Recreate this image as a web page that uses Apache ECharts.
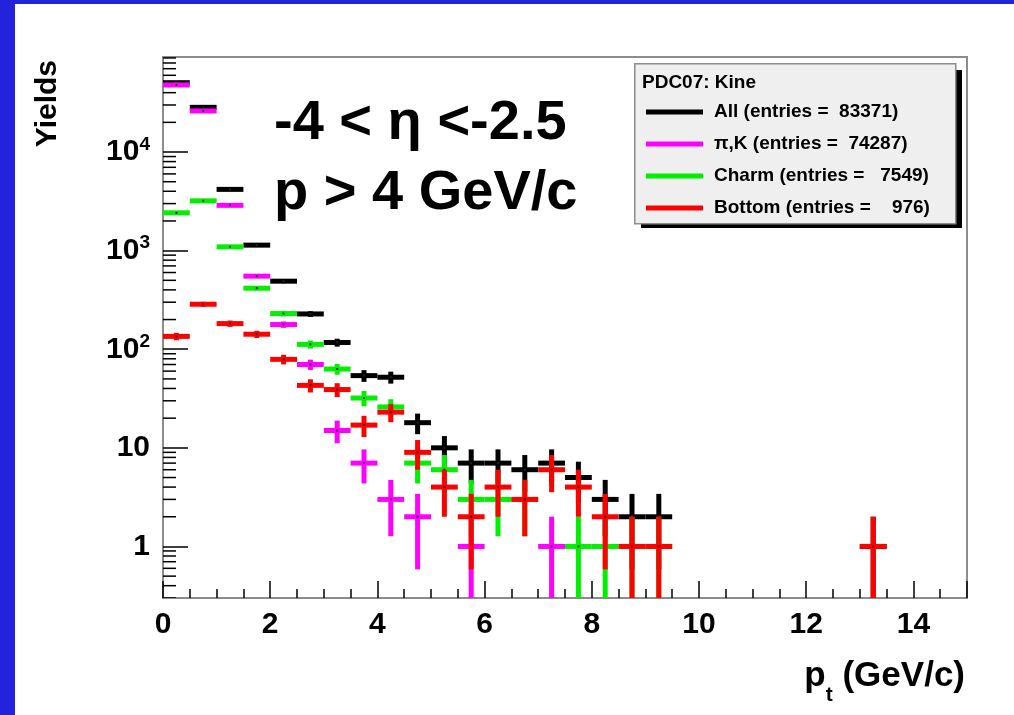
<!DOCTYPE html>
<html>
<head>
<meta charset="utf-8">
<script src="https://cdn.jsdelivr.net/npm/echarts@6/dist/echarts.min.js"></script>
<style>
  html, body { margin: 0; padding: 0; background: #fff; }
  #chart { width: 1014px; height: 715px; }
</style>
</head>
<body>
<div id="chart"></div>
<script>
// 0.5 GeV/c bins starting at pt = 0
var binWidth = 0.5;
var allYield = [50500, 28400, 4180, 1137, 490, 228, 117, 54, 52, 18, 10, 7, 7, 6, 7, 5, 3, 2, 2, 0, 0, 0, 0, 0, 0, 0, 1];
var pikYield = [47900, 26100, 2880, 551, 178, 70, 15, 7, 3, 2, 0, 1, 0, 0, 1, 0, 0, 0, 0];
var charmYield = [2420, 3200, 1093, 416, 230, 112, 63, 32, 26, 7, 6, 3, 3, 3, 0, 1, 1, 1, 1];
var bottomYield = [135, 286, 182, 142, 79, 43, 39, 17, 23, 9, 4, 2, 4, 3, 6, 4, 2, 1, 1, 0, 0, 0, 0, 0, 0, 0, 1];

var seriesNames = ['All (entries =  83371)', '\u03c0,K (entries =  74287)', 'Charm (entries =   7549)', 'Bottom (entries =    976)'];
var seriesColors = ['#000000', '#ff00ff', '#00f000', '#ff0000'];
var legendTitle = 'PDC07: Kine';
var xTicks = [0, 2, 4, 6, 8, 10, 12, 14];

var FONT = '"Liberation Sans", Arial, Helvetica, sans-serif';

function toBins(counts) {
  var out = [];
  counts.forEach(function (n, i) {
    if (n > 0) out.push([i * binWidth, (i + 1) * binWidth, n]);
  });
  return out;
}

// log-axis minor ticks (2..9 x 10^k)
var minorY = [];
for (var e = -1; e <= 4; e++) {
  for (var m = 2; m <= 9; m++) {
    var v = m * Math.pow(10, e);
    if (v > 0.3 && v < 92000) minorY.push([0, v]);
  }
}

function renderBin(params, api) {
  var lo = api.value(0), hi = api.value(1), n = api.value(2);
  var err = Math.sqrt(n);
  var mid = (lo + hi) / 2;
  var a = api.coord([lo, n]);
  var b = api.coord([hi, n]);
  var up = api.coord([mid, n + err]);
  var down = api.coord([mid, Math.max(n - err, 0.01)]);
  var color = api.visual('color');
  return {
    type: 'group',
    children: [
      { type: 'line', shape: { x1: a[0], y1: a[1], x2: b[0], y2: b[1] }, style: { stroke: color, lineWidth: 5 } },
      { type: 'line', shape: { x1: up[0], y1: up[1], x2: down[0], y2: down[1] }, style: { stroke: color, lineWidth: 5 } },
      { type: 'rect', shape: { x: up[0] - 1, y: a[1] - 1, width: 2, height: 2 }, style: { fill: '#222' } }
    ]
  };
}

function renderMinorTick(params, api) {
  var p = api.coord([0, api.value(1)]);
  return { type: 'line', shape: { x1: p[0], y1: p[1], x2: p[0] + 13, y2: p[1] }, style: { stroke: '#000', lineWidth: 1.5 } };
}

var myChart = echarts.init(document.getElementById('chart'));

var yields = [allYield, pikYield, charmYield, bottomYield];
var series = yields.map(function (arr, i) {
  return {
    name: seriesNames[i],
    type: 'custom',
    renderItem: renderBin,
    clip: true,
    itemStyle: { color: seriesColors[i] },
    encode: { x: [0, 1], y: 2 },
    data: toBins(arr),
    z: 3 + i
  };
});
series.push({
  type: 'custom',
  renderItem: renderMinorTick,
  clip: true,
  silent: true,
  data: minorY,
  z: 2
});

var option = {
  animation: false,
  backgroundColor: '#fff',
  grid: { left: 163, right: 47, top: 57, bottom: 117, show: true, borderColor: '#8c8c8c', borderWidth: 2 },
  legend: {
    orient: 'vertical',
    left: 641,
    top: 97,
    z: 30,
    itemWidth: 57,
    itemHeight: 5,
    itemGap: 12,
    icon: 'rect',
    selectedMode: false,
    data: seriesNames,
    textStyle: { fontFamily: FONT, fontWeight: 'bold', fontSize: 19, color: '#000', lineHeight: 20, padding: [0, 0, 0, 6] }
  },
  xAxis: {
    type: 'value',
    min: 0,
    max: 15,
    interval: 2,
    splitLine: { show: false },
    axisLine: { lineStyle: { color: '#8c8c8c', width: 2 } },
    axisTick: { inside: true, length: 17, lineStyle: { color: '#000', width: 1.5 } },
    minorTick: { show: true, splitNumber: 4, length: 9, lineStyle: { color: '#000', width: 1.5 } },
    axisLabel: {
      showMaxLabel: false,
      margin: 12,
      color: '#000',
      fontFamily: FONT,
      fontWeight: 'bold',
      fontSize: 30,
      formatter: function (v) { return xTicks.indexOf(v) >= 0 ? String(v) : ''; }
    }
  },
  yAxis: {
    type: 'log',
    logBase: 10,
    min: 0.3,
    max: 92000,
    splitLine: { show: false },
    axisLine: { lineStyle: { color: '#8c8c8c', width: 2 } },
    axisTick: { inside: true, length: 25, lineStyle: { color: '#000', width: 1.5 } },
    axisLabel: {
      showMinLabel: false,
      showMaxLabel: false,
      margin: 13,
      color: '#000',
      fontFamily: FONT,
      fontWeight: 'bold',
      fontSize: 30,
      formatter: function (v) {
        var p = Math.round(Math.log10(v));
        if (p === 0) return '{b|1}';
        if (p === 1) return '{b|10}';
        return '{b|10}{s|' + p + '}';
      },
      rich: {
        b: { fontFamily: FONT, fontWeight: 'bold', fontSize: 30, lineHeight: 34, color: '#000' },
        s: { fontFamily: FONT, fontWeight: 'bold', fontSize: 19, lineHeight: 34, verticalAlign: 'top', color: '#000' }
      }
    }
  },
  graphic: [
    { type: 'rect', left: 0, top: 0, shape: { width: 15, height: 715 }, style: { fill: '#2323dc' }, z: 100 },
    { type: 'rect', left: 0, top: 0, shape: { width: 1014, height: 4 }, style: { fill: '#2323dc' }, z: 100 },
    // legend box + shadow
    { type: 'rect', left: 641, top: 70, shape: { width: 321, height: 158 }, style: { fill: '#000' }, z: 10 },
    { type: 'rect', left: 634, top: 63, shape: { width: 321, height: 160 }, style: { fill: '#efefef', stroke: '#8c8c8c', lineWidth: 1.5 }, z: 11 },
    { type: 'text', left: 642, top: 73, style: { text: legendTitle, font: 'bold 19px ' + FONT, fill: '#000' }, z: 12 },
    // kinematic cuts
    { type: 'text', left: 274, top: 96, style: { text: '-4 < \u03b7 <-2.5', font: 'bold 56px ' + FONT, fill: '#000' }, z: 20 },
    { type: 'text', left: 274, top: 166, style: { text: 'p > 4 GeV/c', font: 'bold 56px ' + FONT, fill: '#000' }, z: 20 },
    // axis titles
    { type: 'text', x: 48, y: 60, rotation: Math.PI / 2, style: { text: 'Yields', font: 'bold 30px ' + FONT, fill: '#000', align: 'right', verticalAlign: 'middle' }, z: 20 },
    {
      type: 'text', right: 49, top: 659,
      style: {
        text: '{p|p}{t|t}{p| (GeV/c)}',
        rich: {
          p: { font: 'bold 35px ' + FONT, fill: '#000', lineHeight: 40 },
          t: { font: 'bold 21px ' + FONT, fill: '#000', lineHeight: 40, verticalAlign: 'bottom', padding: [0, 0, -9, 0] }
        }
      },
      z: 20
    }
  ],
  series: series
};

myChart.setOption(option);
</script>
</body>
</html>
